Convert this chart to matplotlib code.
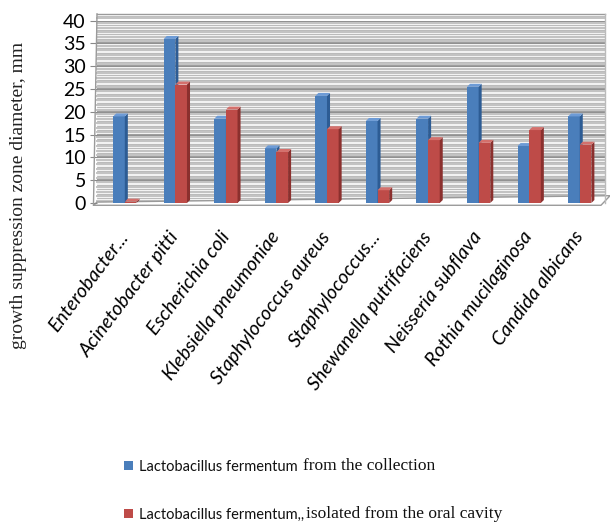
import matplotlib
matplotlib.use('Agg')
import matplotlib.pyplot as plt
from matplotlib.patches import Polygon
import numpy as np

species = ['Enterobacter...', 'Acinetobacter pitti', 'Escherichia coli',
           'Klebsiella pneumoniae', 'Staphylococcus aureus', 'Staphylococcus...',
           'Shewanella putrifaciens', 'Neisseria subflava', 'Rothia mucilaginosa',
           'Candida albicans']
collection = [19, 36, 18.5, 12, 23.5, 18, 18.5, 25.5, 12.5, 19]
oral = [0.3, 26, 20.5, 11.2, 16.2, 2.8, 13.8, 13.2, 16, 12.8]

blue = ('#4a7ebb', '#2d5c94', '#6d9bd6')
red = ('#be4b48', '#8b302e', '#d4706c')

fig = plt.figure(figsize=(6.1, 5.25), dpi=100)
ax = fig.add_axes([97 / 610, 1 - 203 / 525, 508 / 610, 182.3 / 525])

x = np.arange(len(species))
w = 0.23
dx, dy = 0.06, 0.65

ax.set_xlim(-0.55, 9.5)
ax.set_ylim(0, 40)
ax.set_facecolor('#f2f2f2')

# striped back wall
for v in np.arange(0.5, 41, 1.0):
    ax.axhline(v, color='#c2c2c2', lw=1.4, zorder=0, clip_on=False)
for v in np.arange(1, 41.5, 1.0):
    ax.axhline(v, color='#a4a4a4', lw=0.5, zorder=0, clip_on=False)
for v in range(5, 41, 5):
    ax.axhline(v, color='#858585', lw=1.1, zorder=0.5)


def bar3d(x0, h, cols):
    x1 = x0 + w
    ax.add_patch(Polygon([(x0, 0), (x1, 0), (x1, h), (x0, h)], closed=True,
                         fc=cols[0], ec='none', zorder=3))
    ax.add_patch(Polygon([(x1, 0), (x1 + dx, dy), (x1 + dx, h + dy), (x1, h)],
                         closed=True, fc=cols[1], ec='none', zorder=3))
    ax.add_patch(Polygon([(x0, h), (x1, h), (x1 + dx, h + dy), (x0 + dx, h + dy)],
                         closed=True, fc=cols[2], ec='none', zorder=3))


for i in range(len(species)):
    bar3d(x[i] - w, collection[i], blue)
    bar3d(x[i], oral[i], red)

# floor and left side of the wall
ax.add_patch(Polygon([(-0.62, -0.5), (9.42, -0.5), (9.6, 1.6), (-0.55, 0.2)],
                     closed=True, fc='white', ec='#9a9a9a', lw=1.0,
                     zorder=1, clip_on=False))
ax.plot([-0.62, -0.55], [-0.5, 41.5], color='#9a9a9a', lw=1.0, clip_on=False)
ax.plot([-0.55, 9.5], [41.5, 41.5], color='#9a9a9a', lw=1.0, clip_on=False)
ax.plot([9.5, 9.5], [0, 41.5], color='#bbbbbb', lw=1.0, clip_on=False)

for s in ax.spines.values():
    s.set_visible(False)

ax.set_yticks(range(0, 41, 5))
ax.tick_params(axis='y', length=5, color='#888888', labelsize=14, pad=3)
for t in ax.get_yticklabels():
    t.set_fontfamily('Lato')

ax.set_xticks(x)
ax.set_xticklabels(species, rotation=53, ha='right', va='center',
                   rotation_mode='anchor', fontsize=14, fontstyle='italic',
                   fontfamily='Lato')
ax.tick_params(axis='x', length=0, pad=22)

fig.text(0.03, 1 - 195 / 525, 'growth suppression zone diameter, mm',
         rotation=90, va='center', ha='center', fontsize=14,
         fontfamily='Liberation Serif', color='#222222')

# legend rows: sans lead-in followed by a serif tail
rows = [('Lactobacillus fermentum ', 'from the collection', blue[0], 471),
        ('Lactobacillus fermentum,,', 'isolated from the oral cavity', red[0], 519)]
for lead, tail, col, ypix in rows:
    yy = 1 - ypix / 525
    fig.patches.append(plt.Rectangle((124 / 610, yy + 0.002), 9 / 610, 9 / 525,
                                     transform=fig.transFigure, fc=col, ec='none'))
    t1 = fig.text(139 / 610, yy, lead, fontsize=10.5,
                  fontfamily=['Liberation Sans Narrow', 'Lato'],
                  va='baseline', color='#111111')
    ax.annotate(tail, xy=(1, 0), xycoords=t1, xytext=(1, 0),
                textcoords='offset points', va='bottom', ha='left',
                fontsize=12.5, fontfamily='Liberation Serif', color='#111111',
                annotation_clip=False)

fig.savefig('out.png', dpi=100)
